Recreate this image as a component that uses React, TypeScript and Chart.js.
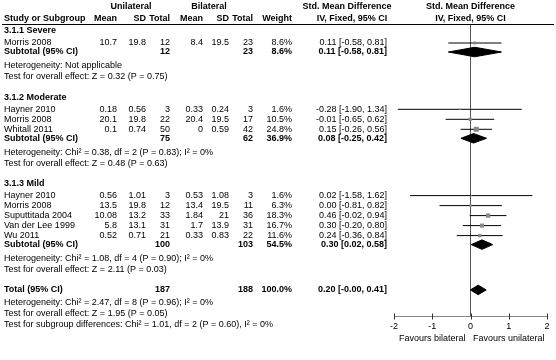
import React, { useEffect, useRef } from 'react';
import { Chart, registerables } from 'chart.js';

Chart.register(...registerables);

// ---------------- data ----------------
const groupNames = ['3.1.1 Severe', '3.1.2 Moderate', '3.1.3 Mild'];

const studyNames = ['Morris 2008', 'Hayner 2010', 'Morris 2008', 'Whitall 2011', 'Hayner 2010', 'Morris 2008', 'Suputtitada 2004', 'Van der Lee 1999', 'Wu 2011'];
const studyGroup = [0, 1, 1, 1, 2, 2, 2, 2, 2];
const uniMean = [10.7, 0.18, 20.1, 0.1, 0.56, 13.5, 10.08, 5.8, 0.52];
const uniSD = [19.8, 0.56, 19.8, 0.74, 1.01, 19.8, 13.2, 13.1, 0.71];
const uniN = [12, 3, 22, 50, 3, 12, 33, 31, 21];
const biMean = [8.4, 0.33, 20.4, 0, 0.53, 13.4, 1.84, 1.7, 0.33];
const biSD = [19.5, 0.24, 19.5, 0.59, 1.08, 19.5, 21, 13.9, 0.83];
const biN = [23, 3, 17, 42, 3, 11, 36, 31, 22];
const weight = [8.6, 1.6, 10.5, 24.8, 1.6, 6.3, 18.3, 16.7, 11.6];
const smd = [0.11, -0.28, -0.01, 0.15, 0.02, 0.0, 0.46, 0.3, 0.24];
const ciLow = [-0.58, -1.9, -0.65, -0.26, -1.58, -0.81, -0.02, -0.2, -0.36];
const ciHigh = [0.81, 1.34, 0.62, 0.56, 1.62, 0.82, 0.94, 0.8, 0.84];

const subUniN = [12, 75, 100];
const subBiN = [23, 62, 103];
const subWeight = [8.6, 36.9, 54.5];
const subSmd = [0.11, 0.08, 0.3];
const subLow = [-0.58, -0.25, 0.02];
const subHigh = [0.81, 0.42, 0.58];
const subHet = [
  'Heterogeneity: Not applicable',
  'Heterogeneity: Chi² = 0.38, df = 2 (P = 0.83); I² = 0%',
  'Heterogeneity: Chi² = 1.08, df = 4 (P = 0.90); I² = 0%',
];
const subTest = [
  'Test for overall effect: Z = 0.32 (P = 0.75)',
  'Test for overall effect: Z = 0.48 (P = 0.63)',
  'Test for overall effect: Z = 2.11 (P = 0.03)',
];

const totUniN = 187;
const totBiN = 188;
const totWeight = 100.0;
const totSmd = 0.2;
const totLow = -0.004;
const totHigh = 0.41;
const totTexts = [
  'Heterogeneity: Chi² = 2.47, df = 8 (P = 0.96); I² = 0%',
  'Test for overall effect: Z = 1.95 (P = 0.05)',
  'Test for subgroup differences: Chi² = 1.01, df = 2 (P = 0.60), I² = 0%',
];

const tickValues = [-2, -1, 0, 1, 2];
const favoursLeft = 'Favours bilateral';
const favoursRight = 'Favours unilateral';

// ---------------- layout ----------------
const W = 556;
const H = 360;
const FAMILY = '"Liberation Sans", Arial, Helvetica, sans-serif';
const FS = 9;
const Y_HEADER1 = 7;
const Y_HEADER2 = 18.5;
const Y_FIRST_GROUP = 31;
const GAP_GROUP_STUDY = 12;
const GAP_STUDY = 10;
const GAP_SUB = 9;
const GAP_HET = 14;
const GAP_TEST = 10.8;
const GAP_SECTION = 20.5;
const GAP_TOTAL_HET = 13;
const PLOT_TOP = 25;
const PLOT_BOTTOM = 316;
const PLOT_LEFT = 394;
const PLOT_RIGHT_PAD = 9;
const X_AXIS_H = 20;
const DIAMOND_HALF = 4.75;

type Row =
  | { kind: 'group'; y: number; label: string }
  | { kind: 'study'; y: number; i: number }
  | { kind: 'subtotal'; y: number; i: number }
  | { kind: 'text'; y: number; label: string }
  | { kind: 'total'; y: number };

const rows: Row[] = [];
const studyY: number[] = [];
const subY: number[] = [];
let totalY = 0;
(() => {
  let y = Y_FIRST_GROUP;
  groupNames.forEach((g, gi) => {
    rows.push({ kind: 'group', y, label: g });
    let first = true;
    studyNames.forEach((_, i) => {
      if (studyGroup[i] === gi) {
        y += first ? GAP_GROUP_STUDY : GAP_STUDY;
        first = false;
        studyY[i] = y;
        rows.push({ kind: 'study', y, i });
      }
    });
    y += GAP_SUB;
    subY[gi] = y;
    rows.push({ kind: 'subtotal', y, i: gi });
    y += GAP_HET;
    rows.push({ kind: 'text', y, label: subHet[gi] });
    y += GAP_TEST;
    rows.push({ kind: 'text', y, label: subTest[gi] });
    y += GAP_SECTION;
  });
  totalY = y;
  rows.push({ kind: 'total', y });
  y += GAP_TOTAL_HET;
  totTexts.forEach((t, k) => {
    if (k > 0) y += GAP_TEST;
    rows.push({ kind: 'text', y, label: t });
  });
})();

const fmt2 = (v: number) => v.toFixed(2);
const effectLabel = (m: number, lo: number, hi: number) => `${fmt2(m)} [${fmt2(lo)}, ${fmt2(hi)}]`;

const COL = {
  name: 4,
  uMean: 117,
  uSD: 146,
  uN: 170,
  bMean: 203,
  bSD: 229,
  bN: 253,
  weight: 292,
  effect: 387,
};

const tablePlugin = {
  id: 'forestTable',
  afterDraw(chart: any) {
    const ctx: CanvasRenderingContext2D = chart.ctx;
    const xs = chart.scales.x;
    const ys = chart.scales.y;
    const yp = (v: number) => ys.getPixelForValue(v);
    ctx.save();
    ctx.fillStyle = '#000';
    ctx.textBaseline = 'middle';
    const put = (s: string, x: number, y: number, align: CanvasTextAlign = 'left', bold = false) => {
      ctx.font = `${bold ? 'bold ' : ''}${FS}px ${FAMILY}`;
      ctx.textAlign = align;
      ctx.fillText(s, x, y);
    };
    const zeroX = xs.getPixelForValue(0);

    // header rows
    const h1 = yp(Y_HEADER1);
    const h2 = yp(Y_HEADER2);
    put('Unilateral', 131, h1, 'center', true);
    put('Bilateral', 209, h1, 'center', true);
    put('Std. Mean Difference', 347, h1, 'center', true);
    put('Std. Mean Difference', zeroX, h1, 'center', true);
    put('Study or Subgroup', COL.name, h2, 'left', true);
    put('Mean', COL.uMean, h2, 'right', true);
    put('SD', COL.uSD, h2, 'right', true);
    put('Total', COL.uN, h2, 'right', true);
    put('Mean', COL.bMean, h2, 'right', true);
    put('SD', COL.bSD, h2, 'right', true);
    put('Total', COL.bN, h2, 'right', true);
    put('Weight', COL.weight, h2, 'right', true);
    put('IV, Fixed, 95% CI', 352, h2, 'center', true);
    put('IV, Fixed, 95% CI', zeroX, h2, 'center', true);

    // header rule
    ctx.strokeStyle = '#000';
    ctx.lineWidth = 1;
    const ry = Math.round(chart.chartArea.top) - 0.5;
    ctx.beginPath();
    ctx.moveTo(2, ry);
    ctx.lineTo(554, ry);
    ctx.stroke();

    rows.forEach((row) => {
      const y = yp(row.y);
      if (row.kind === 'group') {
        put(row.label, COL.name, y, 'left', true);
      } else if (row.kind === 'study') {
        const i = row.i;
        put(studyNames[i], COL.name, y);
        put(String(uniMean[i]), COL.uMean, y, 'right');
        put(String(uniSD[i]), COL.uSD, y, 'right');
        put(String(uniN[i]), COL.uN, y, 'right');
        put(String(biMean[i]), COL.bMean, y, 'right');
        put(String(biSD[i]), COL.bSD, y, 'right');
        put(String(biN[i]), COL.bN, y, 'right');
        put(weight[i].toFixed(1) + '%', COL.weight, y, 'right');
        put(effectLabel(smd[i], ciLow[i], ciHigh[i]), COL.effect, y, 'right');
      } else if (row.kind === 'subtotal') {
        const i = row.i;
        put('Subtotal (95% CI)', COL.name, y, 'left', true);
        put(String(subUniN[i]), COL.uN, y, 'right', true);
        put(String(subBiN[i]), COL.bN, y, 'right', true);
        put(subWeight[i].toFixed(1) + '%', COL.weight, y, 'right', true);
        put(effectLabel(subSmd[i], subLow[i], subHigh[i]), COL.effect, y, 'right', true);
      } else if (row.kind === 'total') {
        put('Total (95% CI)', COL.name, y, 'left', true);
        put(String(totUniN), COL.uN, y, 'right', true);
        put(String(totBiN), COL.bN, y, 'right', true);
        put(totWeight.toFixed(1) + '%', COL.weight, y, 'right', true);
        put(effectLabel(totSmd, totLow, totHigh), COL.effect, y, 'right', true);
      } else {
        put(row.label, COL.name, y);
      }
    });

    // axis tick marks
    const ay = Math.round(chart.chartArea.bottom) + 0.5;
    ctx.strokeStyle = '#333';
    tickValues.forEach((v) => {
      const px = Math.round(xs.getPixelForValue(v)) + 0.5;
      ctx.beginPath();
      ctx.moveTo(px, ay - 3);
      ctx.lineTo(px, ay + 3);
      ctx.stroke();
    });

    // favours labels
    put(favoursLeft, xs.getPixelForValue(-1), ay + 22, 'center');
    put(favoursRight, xs.getPixelForValue(1), ay + 22, 'center');
    ctx.restore();
  },
};

export default function App() {
  const ref = useRef<HTMLCanvasElement>(null);
  useEffect(() => {
    const canvas = ref.current;
    if (!canvas) return;

    const squares = {
      data: studyNames.map((_, i) => ({ x: smd[i], y: studyY[i] })),
      pointStyle: 'rect',
      pointRadius: weight.map((w) => Math.sqrt(w) / Math.SQRT2),
      backgroundColor: '#888',
      borderColor: '#888',
      borderWidth: 0,
      showLine: false,
    };
    const ciLines = studyNames.map((_, i) => ({
      data: [
        { x: ciLow[i], y: studyY[i] },
        { x: ciHigh[i], y: studyY[i] },
      ],
      showLine: true,
      borderColor: '#000',
      borderWidth: 1,
      pointRadius: 0,
    }));
    const diamond = (m: number, lo: number, hi: number, y: number) => ({
      data: [
        { x: lo, y },
        { x: m, y: y - DIAMOND_HALF },
        { x: hi, y },
        { x: m, y: y + DIAMOND_HALF },
        { x: lo, y },
      ],
      showLine: true,
      fill: 'shape',
      tension: 0,
      backgroundColor: '#000',
      borderColor: '#000',
      borderWidth: 1,
      pointRadius: 0,
    });
    const diamonds = [
      ...subSmd.map((m, gi) => diamond(m, subLow[gi], subHigh[gi], subY[gi])),
      diamond(totSmd, totLow, totHigh, totalY),
    ];

    const chart = new Chart(canvas, {
      type: 'scatter',
      data: { datasets: [squares, ...ciLines, ...diamonds] as any },
      options: {
        animation: false,
        responsive: false,
        devicePixelRatio: 1,
        events: [],
        layout: {
          padding: {
            left: PLOT_LEFT,
            right: PLOT_RIGHT_PAD,
            top: PLOT_TOP,
            bottom: H - PLOT_BOTTOM - X_AXIS_H,
          },
        },
        plugins: { legend: { display: false }, tooltip: { enabled: false } },
        scales: {
          x: {
            type: 'linear',
            min: -2,
            max: 2,
            afterBuildTicks: (scale: any) => {
              scale.ticks = tickValues.map((v) => ({ value: v }));
            },
            afterFit: (scale: any) => {
              scale.height = X_AXIS_H;
            },
            ticks: {
              font: { family: FAMILY, size: FS },
              color: '#000',
              padding: 5,
              maxRotation: 0,
              autoSkip: false,
            },
            grid: {
              drawTicks: false,
              lineWidth: 1,
              color: (c: any) => (c.tick && c.tick.value === 0 ? '#555' : 'rgba(0,0,0,0)'),
            },
            border: { display: true, color: '#888' },
          },
          y: {
            type: 'linear',
            display: false,
            reverse: true,
            min: PLOT_TOP,
            max: PLOT_BOTTOM,
          },
        },
      } as any,
      plugins: [tablePlugin],
    });
    return () => chart.destroy();
  }, []);

  return (
    <div style={{ position: 'fixed', left: 0, top: 0, width: W, height: H, background: '#fff' }}>
      <canvas ref={ref} width={W} height={H} style={{ width: W, height: H, display: 'block' }} />
    </div>
  );
}
